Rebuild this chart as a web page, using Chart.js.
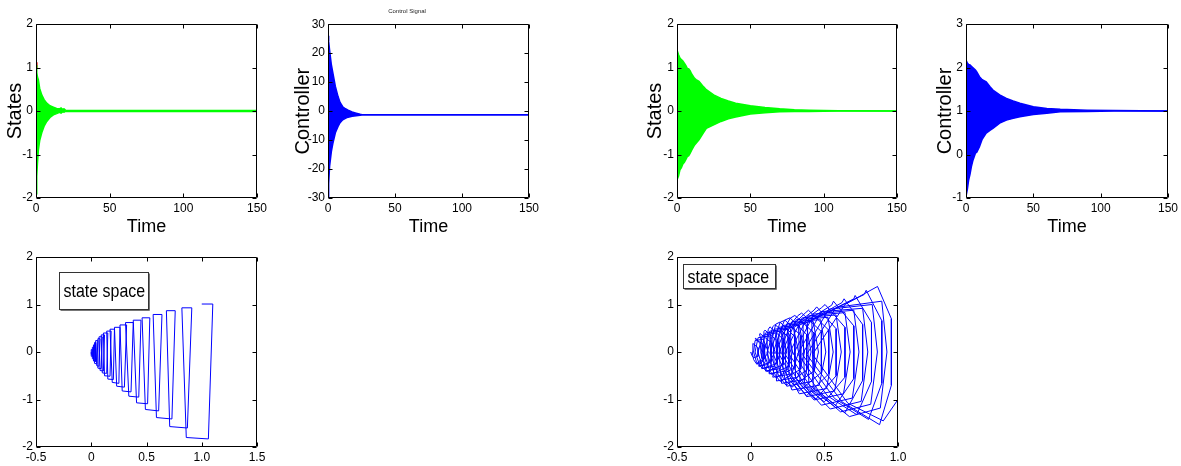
<!DOCTYPE html>
<html>
<head>
<meta charset="utf-8">
<script src="https://cdn.jsdelivr.net/npm/chart.js@4.4.1/dist/chart.umd.min.js"></script>
<style>
html, body { margin: 0; padding: 0; background: #fff; }
#wrap { position: relative; width: 1181px; height: 466px; overflow: hidden; }
canvas { position: absolute; }
</style>
</head>
<body>
<div id="wrap">
  <canvas id="c1" width="270" height="240" style="left:0px;top:0px"></canvas>
  <canvas id="c2" width="259" height="240" style="left:285px;top:0px"></canvas>
  <canvas id="c3" width="270" height="240" style="left:640px;top:0px"></canvas>
  <canvas id="c4" width="256" height="240" style="left:925px;top:0px"></canvas>
  <canvas id="c5" width="270" height="226" style="left:0px;top:240px"></canvas>
  <canvas id="c6" width="270" height="226" style="left:640px;top:240px"></canvas>
</div>
<script>
// ---- dados ----
// caso 1 (esquerda): estados
const time1 = [0, 0.5, 1, 1.6, 2.5, 3.9, 5.5, 7.3, 9.5, 11.8, 14, 16, 17, 18, 19, 20, 22, 150]
const states1Up = [1.06, 0.88, 0.78, 0.72, 0.52, 0.37, 0.26, 0.18, 0.12, 0.09, 0.06, 0.05, 0.07, 0.04, 0.05, 0.02, 0.01, 0.01]
const states1Low = [-1.9, -1.5, -1.2, -0.9, -0.68, -0.5, -0.35, -0.24, -0.15, -0.09, -0.06, -0.03, -0.05, -0.02, -0.03, -0.01, -0.01, -0.01]

// caso 1: controle
const time2 = [0, 0.5, 1.2, 2.5, 3.7, 5.5, 7.5, 9, 11, 13, 15, 18, 21, 24, 26, 150]
const control1Up = [26, 24, 21, 16, 13, 8.5, 5, 3, 1.5, 0.8, 0.3, -0.3, -0.7, -1.1, -1.3, -1.3]
const control1Low = [-30, -25, -19, -14, -11, -7.5, -5.3, -4, -3, -2.5, -2.1, -1.8, -1.6, -1.4, -1.3, -1.3]

// caso 2 (direita): estados
const time3 = [0, 1, 2, 3, 4, 5, 6, 7, 8, 9, 10, 12, 13, 15, 18, 20, 25, 30, 35, 40, 50, 60, 70, 80, 90, 100, 110, 150]
const states2Up = [1.4, 1.3, 1.22, 1.18, 1.15, 1.1, 1.05, 0.98, 0.97, 0.92, 0.85, 0.75, 0.72, 0.68, 0.56, 0.49, 0.37, 0.29, 0.23, 0.18, 0.12, 0.08, 0.05, 0.03, 0.02, 0.01, 0.005, 0]
const states2Low = [-1.58, -1.5, -1.35, -1.3, -1.22, -1.18, -1.12, -1.05, -1.03, -0.97, -0.9, -0.78, -0.74, -0.66, -0.5, -0.4, -0.32, -0.24, -0.18, -0.14, -0.07, -0.04, -0.02, -0.01, -0.01, -0.005, 0, 0]

// caso 2: controle
const time4 = [0, 1, 2, 3, 4, 5, 7, 8, 10, 12, 15, 18, 20, 25, 30, 35, 40, 50, 60, 70, 90, 110, 150]
const control2Up = [2.17, 2.1, 2.07, 2.06, 2.03, 2.0, 1.94, 1.9, 1.79, 1.72, 1.67, 1.55, 1.48, 1.37, 1.29, 1.23, 1.18, 1.1, 1.06, 1.04, 1.02, 1.01, 1.0]
const control2Low = [-0.96, -0.8, -0.58, -0.45, -0.28, -0.15, 0.03, 0.05, 0.18, 0.35, 0.49, 0.56, 0.6, 0.72, 0.79, 0.83, 0.87, 0.92, 0.95, 0.98, 0.99, 1.0, 1.0]

// espaço de estados, caso 1 (vértices da trajetória)
const phase1X = [1.00, 1.10, 1.06, 0.86, 0.82, 0.91, 0.87, 0.71, 0.68, 0.76, 0.73, 0.59, 0.56, 0.64, 0.61, 0.49,
  0.46, 0.53, 0.51, 0.41, 0.38, 0.45, 0.43, 0.34, 0.31, 0.38, 0.36, 0.28, 0.26, 0.32, 0.30, 0.23,
  0.21, 0.26, 0.25, 0.19, 0.17, 0.21, 0.20, 0.15, 0.14, 0.18, 0.17, 0.12, 0.11, 0.15, 0.14, 0.10,
  0.09, 0.12, 0.11, 0.08, 0.07, 0.10, 0.09, 0.06, 0.06, 0.08, 0.07, 0.05, 0.04, 0.06, 0.05, 0.03,
  0.03, 0.04, 0.04, 0.02, 0.02, 0.03, 0.02, 0.01, 0.01, 0.02, 0.01, 0.005, 0, 0.01, 0.005, 0, 0]
const phase1Y = [1.01, 1.01, -1.83, -1.80, 0.93, 0.93, -1.60, -1.57, 0.87, 0.87, -1.41, -1.38, 0.79, 0.79, -1.24, -1.21,
  0.72, 0.72, -1.09, -1.07, 0.67, 0.67, -0.95, -0.93, 0.62, 0.62, -0.84, -0.82, 0.57, 0.57, -0.74, -0.72,
  0.52, 0.52, -0.66, -0.64, 0.48, 0.48, -0.58, -0.57, 0.44, 0.44, -0.51, -0.50, 0.40, 0.40, -0.45, -0.44,
  0.36, 0.36, -0.40, -0.39, 0.32, 0.32, -0.35, -0.34, 0.28, 0.28, -0.30, -0.29, 0.24, 0.24, -0.25, -0.24,
  0.20, 0.20, -0.20, -0.19, 0.15, 0.15, -0.15, -0.14, 0.10, 0.10, -0.10, -0.09, 0.05, 0.05, -0.05, -0.04, 0]

// espaço de estados, caso 2: vértices [x, y] na ordem da trajetória
const phase2XY = [
  [1.0, -1.0], [0.90, -1.45], [0.66, -1.08], [0.42, -0.05], [0.64, 1.00],
  [0.861, 1.38], [0.955, 0.70], [0.955, -0.70], [0.875, -1.53], [0.62, -1.05], [0.38, -0.05], [0.58, 0.94],
  [0.89, 1.07], [0.925, 0], [0.88, -1.18], [0.67, -1.36], [0.425, -0.74], [0.415, 0.67], [0.77, 1.21],
  [0.784, 1.30], [0.89, 0.66], [0.89, -0.66], [0.80, -1.42], [0.57, -0.98], [0.35, -0.05], [0.53, 0.90],
  [0.825, 1.00], [0.86, 0], [0.815, -1.10], [0.61, -1.26], [0.395, -0.685], [0.385, 0.62], [0.70, 1.12],
  [0.709, 1.19], [0.82, 0.62], [0.82, -0.62], [0.72, -1.32], [0.52, -0.92], [0.32, -0.04], [0.48, 0.85],
  [0.76, 0.92], [0.795, 0], [0.75, -1.04], [0.54, -1.20], [0.365, -0.65], [0.355, 0.58], [0.62, 1.04],
  [0.634, 1.12], [0.76, 0.58], [0.76, -0.60], [0.64, -1.28], [0.47, -0.86], [0.29, -0.04], [0.43, 0.80],
  [0.70, 0.88], [0.735, 0], [0.69, -0.97], [0.48, -1.12], [0.335, -0.61], [0.325, 0.55], [0.55, 0.985],
  [0.562, 1.07], [0.70, 0.55], [0.70, -0.56], [0.57, -1.15], [0.42, -0.80], [0.26, -0.04], [0.39, 0.76],
  [0.64, 0.83], [0.675, 0], [0.63, -0.88], [0.43, -1.01], [0.305, -0.55], [0.295, 0.52], [0.48, 0.93],
  [0.505, 1.00], [0.64, 0.52], [0.64, -0.53], [0.50, -1.05], [0.38, -0.75], [0.23, -0.03], [0.35, 0.72],
  [0.58, 0.78], [0.615, 0], [0.57, -0.82], [0.38, -0.94], [0.28, -0.51], [0.27, 0.49], [0.43, 0.88],
  [0.448, 0.95], [0.58, 0.49], [0.58, -0.50], [0.44, -1.00], [0.34, -0.70], [0.21, -0.03], [0.31, 0.68],
  [0.525, 0.73], [0.56, 0], [0.515, -0.77], [0.33, -0.88], [0.26, -0.48], [0.25, 0.46], [0.37, 0.82],
  [0.392, 0.88], [0.53, 0.46], [0.53, -0.46], [0.38, -0.92], [0.30, -0.64], [0.19, -0.03], [0.28, 0.64],
  [0.475, 0.68], [0.51, 0], [0.465, -0.70], [0.28, -0.80], [0.24, -0.435], [0.23, 0.425], [0.32, 0.765],
  [0.346, 0.82], [0.48, 0.43], [0.48, -0.43], [0.33, -0.82], [0.26, -0.58], [0.17, -0.02], [0.25, 0.60],
  [0.425, 0.64], [0.46, 0], [0.415, -0.62], [0.245, -0.72], [0.22, -0.39], [0.21, 0.40], [0.27, 0.715],
  [0.300, 0.77], [0.43, 0.40], [0.43, -0.40], [0.28, -0.74], [0.22, -0.54], [0.15, -0.02], [0.22, 0.56],
  [0.375, 0.60], [0.41, 0], [0.365, -0.58], [0.21, -0.66], [0.20, -0.36], [0.19, 0.37], [0.23, 0.67],
  [0.267, 0.72], [0.38, 0.37], [0.38, -0.38], [0.24, -0.70], [0.19, -0.50], [0.13, -0.02], [0.19, 0.52],
  [0.33, 0.56], [0.365, 0], [0.32, -0.53], [0.175, -0.61], [0.18, -0.33], [0.17, 0.35], [0.20, 0.625],
  [0.233, 0.67], [0.34, 0.35], [0.34, -0.36], [0.20, -0.62], [0.16, -0.45], [0.11, -0.02], [0.16, 0.48],
  [0.29, 0.52], [0.325, 0], [0.28, -0.46], [0.15, -0.53], [0.16, -0.29], [0.15, 0.33], [0.17, 0.585],
  [0.199, 0.63], [0.30, 0.32], [0.30, -0.33], [0.17, -0.54], [0.13, -0.40], [0.09, -0.01], [0.13, 0.44],
  [0.25, 0.48], [0.285, 0], [0.24, -0.40], [0.125, -0.46], [0.14, -0.25], [0.13, 0.30], [0.15, 0.53],
  [0.165, 0.58], [0.26, 0.30], [0.26, -0.30], [0.14, -0.47], [0.10, -0.36], [0.07, -0.01], [0.10, 0.40],
  [0.21, 0.44], [0.245, 0], [0.20, -0.35], [0.10, -0.40], [0.12, -0.22], [0.11, 0.28], [0.12, 0.48],
  [0.131, 0.53], [0.22, 0.27], [0.22, -0.27], [0.11, -0.41], [0.08, -0.32], [0.05, -0.01], [0.08, 0.35],
  [0.17, 0.40], [0.205, 0], [0.16, -0.30], [0.075, -0.35], [0.10, -0.19], [0.09, 0.25], [0.09, 0.43],
  [0.097, 0.46], [0.18, 0.24], [0.18, -0.24], [0.08, -0.35], [0.06, -0.27], [0.03, 0], [0.05, 0.30],
  [0.13, 0.34], [0.165, 0], [0.12, -0.26], [0.055, -0.30], [0.085, -0.16], [0.075, 0.21], [0.06, 0.37],
  [0.063, 0.39], [0.14, 0.20], [0.14, -0.20], [0.06, -0.30], [0.04, -0.22], [0.02, 0], [0.03, 0.24],
  [0.085, 0.27], [0.12, 0], [0.075, -0.22], [0.04, -0.25], [0.075, -0.14], [0.065, 0.17], [0.035, 0.29],
  [0.029, 0.28], [0.09, 0.15], [0.09, -0.15], [0.04, -0.25], [0.02, -0.16], [0.01, 0], [0.015, 0.16],
  [0.015, 0.18], [0.05, 0.09], [0.05, -0.09], [0.02, -0.12], [0.01, -0.08], [0, 0]
]

const GREEN = '#00ff00'
const BLUE = '#0000ff'

Chart.defaults.font.family = '"Liberation Sans", Arial, sans-serif'
Chart.defaults.color = '#000'
Chart.defaults.animation = false

////////////////////////// FUNÇÕES //////////////////////////////////////

function pts(xs, ys) {
    return xs.map((x, i) => ({ x: x, y: ys[i] }))
}

// caixa em volta do gráfico com ticks para dentro (estilo MATLAB)
const frame = {
    id: 'frame',
    afterDraw(chart) {
        const { ctx, chartArea: a, scales: { x, y } } = chart
        const L = Math.round(a.left) + 0.5, R = Math.round(a.right) - 0.5
        const T = Math.round(a.top) + 0.5, B = Math.round(a.bottom) - 0.5
        ctx.save()
        ctx.strokeStyle = '#000'
        ctx.lineWidth = 1
        ctx.beginPath()
        ctx.rect(L, T, R - L, B - T)
        x.ticks.forEach(t => {
            const px = Math.round(x.getPixelForValue(t.value)) + 0.5
            ctx.moveTo(px, B); ctx.lineTo(px, B - 4)
            ctx.moveTo(px, T); ctx.lineTo(px, T + 4)
        })
        y.ticks.forEach(t => {
            const py = Math.round(y.getPixelForValue(t.value)) + 0.5
            ctx.moveTo(L, py); ctx.lineTo(L + 4, py)
            ctx.moveTo(R, py); ctx.lineTo(R - 4, py)
        })
        ctx.stroke()

        // caixinha "state space"
        const note = chart.options.plugins.note
        if (note && note.text) {
            const bx = Math.round(a.left + note.dx) + 0.5
            const by = Math.round(a.top + note.dy) + 0.5
            ctx.fillStyle = '#fff'
            ctx.fillRect(bx, by, note.w, note.h)
            ctx.strokeStyle = '#333'
            ctx.strokeRect(bx, by, note.w, note.h)
            ctx.beginPath()
            ctx.moveTo(bx + 1, by + note.h + 1); ctx.lineTo(bx + note.w + 1, by + note.h + 1)
            ctx.lineTo(bx + note.w + 1, by + 1)
            ctx.strokeStyle = '#777'
            ctx.stroke()
            ctx.fillStyle = '#000'
            ctx.font = '19px "Liberation Sans", Arial, sans-serif'
            ctx.textBaseline = 'middle'
            ctx.translate(bx + 4, by + note.h / 2 + 1)
            ctx.scale(0.84, 1)
            ctx.fillText(note.text, 0, 0)
        }
        ctx.restore()
    }
}

function scales(o) {
    const tickFont = { size: 12 }
    return {
        x: {
            type: 'linear', min: o.xmin, max: o.xmax,
            ticks: { stepSize: o.xstep, font: tickFont, padding: 3, maxRotation: 0 },
            grid: { display: false, drawTicks: false },
            border: { display: false },
            title: o.xtitle ? { display: true, text: o.xtitle, font: { size: 18 }, padding: { top: 0, bottom: 2 } } : { display: false },
            afterFit: s => { s.height = o.xh }
        },
        y: {
            type: 'linear', min: o.ymin, max: o.ymax,
            ticks: { stepSize: o.ystep, font: tickFont, padding: 3 },
            grid: { display: false, drawTicks: false },
            border: { display: false },
            title: o.ytitle ? { display: true, text: o.ytitle, font: { size: 20 }, padding: { top: o.ytpad, bottom: 0 } } : { display: false },
            afterFit: s => { s.width = o.yw }
        }
    }
}

function bandChart(id, t, up, low, color, o, extra) {
    const ds = [
        { data: pts(t, up), borderColor: color, borderWidth: 1.5, pointRadius: 0, fill: false },
        { data: pts(t, low), borderColor: color, borderWidth: 1.5, pointRadius: 0, fill: '-1', backgroundColor: color }
    ]
    if (extra) ds.push(extra)
    return new Chart(document.getElementById(id), {
        type: 'line',
        data: { datasets: ds },
        plugins: [frame],
        options: {
            responsive: false,
            layout: { padding: { top: o.padTop, right: o.padRight, left: 0, bottom: 0 } },
            plugins: {
                legend: { display: false },
                tooltip: { enabled: false },
                title: o.title ? { display: true, text: o.title, font: { size: 6, weight: 'normal' }, color: '#222', padding: { top: 8, bottom: 9 } } : { display: false }
            },
            scales: scales(o)
        }
    })
}

function phaseChart(id, data, o) {
    return new Chart(document.getElementById(id), {
        type: 'line',
        data: { datasets: [{ data: data, borderColor: BLUE, borderWidth: 1, pointRadius: 0, fill: false, tension: 0 }] },
        plugins: [frame],
        options: {
            responsive: false,
            layout: { padding: { top: o.padTop, right: o.padRight, left: 0, bottom: 0 } },
            plugins: { legend: { display: false }, tooltip: { enabled: false }, note: o.note },
            scales: scales(o)
        }
    })
}

//////////////////////////// GRÁFICOS ///////////////////////////////////

bandChart('c1', time1, states1Up, states1Low, GREEN,
    { xmin: 0, xmax: 150, xstep: 50, ymin: -2, ymax: 2, ystep: 1, xtitle: 'Time', ytitle: 'States', ytpad: 3, yw: 36, xh: 42, padTop: 24, padRight: 13 },
    { data: pts([0, 0.4], [1.12, 0.98]), borderColor: '#ff0000', borderWidth: 2, pointRadius: 0, fill: false })

bandChart('c2', time2, control1Up, control1Low, BLUE,
    { xmin: 0, xmax: 150, xstep: 50, ymin: -30, ymax: 30, ystep: 10, xtitle: 'Time', ytitle: 'Controller', ytpad: 6, yw: 43, xh: 42, padTop: 0, padRight: 15, title: 'Control Signal' })

bandChart('c3', time3, states2Up, states2Low, GREEN,
    { xmin: 0, xmax: 150, xstep: 50, ymin: -2, ymax: 2, ystep: 1, xtitle: 'Time', ytitle: 'States', ytpad: 3, yw: 37, xh: 42, padTop: 24, padRight: 12 })

bandChart('c4', time4, control2Up, control2Low, BLUE,
    { xmin: 0, xmax: 150, xstep: 50, ymin: -1, ymax: 3, ystep: 1, xtitle: 'Time', ytitle: 'Controller', ytpad: 8, yw: 41, xh: 42, padTop: 24, padRight: 11 })

phaseChart('c5', pts(phase1X, phase1Y),
    { xmin: -0.5, xmax: 1.5, xstep: 0.5, ymin: -2, ymax: 2, ystep: 1, yw: 36, xh: 19, padTop: 17, padRight: 13,
      note: { text: 'state space', dx: 23, dy: 15, w: 89, h: 37 } })

phaseChart('c6', phase2XY.map(p => ({ x: p[0], y: p[1] })),
    { xmin: -0.5, xmax: 1, xstep: 0.5, ymin: -2, ymax: 2, ystep: 1, yw: 37, xh: 19, padTop: 17, padRight: 12,
      note: { text: 'state space', dx: 6, dy: 7, w: 92, h: 24 } })
</script>
</body>
</html>
